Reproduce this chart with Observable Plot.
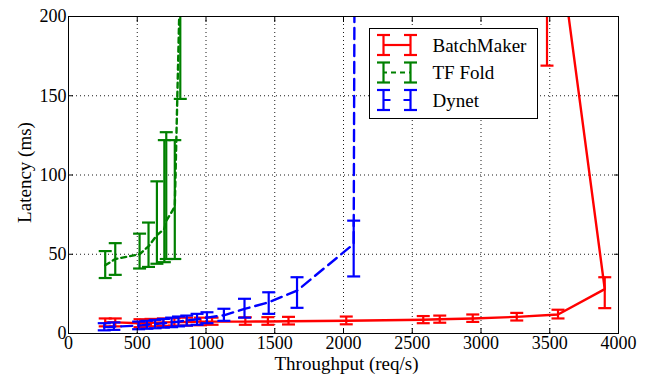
<!DOCTYPE html>
<html>
<head>
<meta charset="utf-8">
<script src="https://cdn.jsdelivr.net/npm/d3@7"></script>
<script src="https://cdn.jsdelivr.net/npm/@observablehq/plot@0.6"></script>
<style>
  html, body { margin: 0; padding: 0; background: #fff; overflow: hidden; font-family: 'Liberation Serif', serif; }
  #chart { width: 652px; height: 381px; }
</style>
</head>
<body>
<div id="chart"></div>
<script>
// ---- data ----
const seriesNames = ["BatchMaker", "TF Fold", "Dynet"];
const seriesColors = ["#ff0000", "#008000", "#0000ff"];
const seriesDash = [null, "5,4", "11,6"];

const batchX  = [267, 340, 520, 600, 690, 770, 860, 960, 1044, 1286, 1450, 1600, 2020, 2580, 2700, 2940, 3260, 3560, 3900, 3480];
const batchY  = [7, 7, 6.5, 6.8, 7, 7.2, 7.3, 7.5, 7.5, 7.5, 7.6, 7.7, 8, 8.7, 9, 9.5, 10.5, 12, 28, 303];
const batchLo = [4.5, 4.5, 4, 4.5, 4.8, 5, 5, 5.2, 5.5, 5.5, 5.5, 5.7, 5.8, 6.5, 6.8, 7.3, 8.2, 9.5, 16, 169];
const batchHi = [9.5, 9.5, 9, 9.2, 9.5, 9.7, 10, 10, 10, 10.2, 10.3, 10.5, 10.7, 11, 11.3, 12, 13, 15, 35.5, 420];

const tfX  = [267, 340, 517, 582, 643, 697, 711, 773, 813];
const tfY  = [43, 47, 50, 55, 62, 66, 71, 80, 230];
const tfLo = [35, 37, 41, 42, 44, 45, 47, 47, 148];
const tfHi = [52, 57, 63, 70, 96, 122, 127, 122, 330];

const dyX  = [260, 330, 510, 570, 630, 690, 750, 800, 860, 935, 1007, 1130, 1280, 1456, 1662, 2074, 2085];
const dyY  = [4, 4.3, 5, 5.5, 6, 6.5, 7, 7.5, 8.2, 9, 10, 11.5, 15.5, 19.7, 27, 56.5, 350];
const dyLo = [2, 2.3, 2.7, 3, 3.3, 3.7, 4, 4.5, 5, 5.5, 6.5, 8, 10, 12.4, 16.2, 36, 250];
const dyHi = [6.5, 7, 7.5, 8, 8.6, 9.2, 10, 10.7, 11.3, 12.4, 13.4, 15.6, 21.9, 26, 35.5, 71.2, 450];

const xTicks = [0, 500, 1000, 1500, 2000, 2500, 3000, 3500, 4000];
const yTicks = [0, 50, 100, 150, 200];
const xLabel = "Throughput (req/s)";
const yLabel = "Latency (ms)";

// ---- build table ----
function rows(name, xs, ys, los, his) {
  return xs.map((x, i) => ({series: name, x, y: ys[i], lo: los[i], hi: his[i]}));
}
const allSeries = [
  rows(seriesNames[0], batchX, batchY, batchLo, batchHi),
  rows(seriesNames[1], tfX, tfY, tfLo, tfHi),
  rows(seriesNames[2], dyX, dyY, dyLo, dyHi)
];

// horizontal cap symbol for error bars
const capSymbol = {
  draw(ctx, size) {
    const w = Math.sqrt(size / Math.PI);
    ctx.moveTo(-w, 0);
    ctx.lineTo(w, 0);
  }
};

const font = "Liberation Serif";
const fmt = d3.format("d");
const marks = [];

// grid
marks.push(Plot.ruleX(xTicks.slice(1, -1), {stroke: "#000", strokeWidth: 1, strokeDasharray: "1,3", strokeOpacity: 0.9}));
marks.push(Plot.ruleY(yTicks.slice(1, -1), {stroke: "#000", strokeWidth: 1, strokeDasharray: "1,3", strokeOpacity: 0.9}));

allSeries.forEach((data, si) => {
  const c = seriesColors[si];
  marks.push(Plot.line(data, {x: "x", y: "y", stroke: c, strokeWidth: 2.4, strokeDasharray: seriesDash[si], clip: true}));
  marks.push(Plot.ruleX(data, {x: "x", y1: "lo", y2: "hi", stroke: c, strokeWidth: 2.2, clip: true}));
  marks.push(Plot.dot(data, {x: "x", y: "lo", symbol: capSymbol, r: 6.5, stroke: c, strokeWidth: 2.2, fill: "none", clip: true}));
  marks.push(Plot.dot(data, {x: "x", y: "hi", symbol: capSymbol, r: 6.5, stroke: c, strokeWidth: 2.2, fill: "none", clip: true}));
});

// axes (tick labels)
marks.push(Plot.axisX(xTicks, {anchor: "bottom", tickSize: 0, tickPadding: 3, fontSize: 18, fontFamily: font, tickFormat: fmt, label: null}));
marks.push(Plot.axisY(yTicks, {anchor: "left", tickSize: 0, tickPadding: 2, fontSize: 18, fontFamily: font, tickFormat: fmt, label: null}));
// inward ticks on all four sides
marks.push(Plot.axisX(xTicks, {anchor: "bottom", tickSize: -5, tickFormat: () => "", label: null}));
marks.push(Plot.axisX(xTicks, {anchor: "top", tickSize: -5, tickFormat: () => "", label: null}));
marks.push(Plot.axisY(yTicks, {anchor: "left", tickSize: -5, tickFormat: () => "", label: null}));
marks.push(Plot.axisY(yTicks, {anchor: "right", tickSize: -5, tickFormat: () => "", label: null}));
// axis titles
marks.push(Plot.text([xLabel], {text: d => d, frameAnchor: "bottom", lineAnchor: "middle", textAnchor: "middle", dy: 30.5, dx: 3, fontSize: 19, fontFamily: font, fill: "#000"}));
marks.push(Plot.text([yLabel], {text: d => d, frameAnchor: "left", lineAnchor: "middle", textAnchor: "middle", rotate: -90, dx: -43.5, dy: -2.5, fontSize: 19, fontFamily: font, fill: "#000"}));
marks.push(Plot.frame({stroke: "#000", strokeWidth: 1}));

const plot = Plot.plot({
  width: 652,
  height: 381,
  marginLeft: 68,
  marginRight: 34,
  marginTop: 16,
  marginBottom: 48,
  style: {color: "#000", background: "#fff"},
  x: {domain: [0, 4000]},
  y: {domain: [0, 200]},
  marks
});
document.getElementById("chart").appendChild(plot);

// ---- legend (inside svg) ----
const svg = d3.select(plot);
const lg = svg.append("g").attr("transform", "translate(369.5,28.5)");
lg.append("rect").attr("width", 168).attr("height", 90).attr("fill", "#fff").attr("stroke", "#000").attr("stroke-width", 1);
seriesNames.forEach((name, i) => {
  const cy = 16.5 + i * 27.5;
  const g = lg.append("g").attr("transform", `translate(0,${cy})`);
  const c = seriesColors[i];
  const xa = 14, xb = 41, h = 10, cw = 6.5;
  g.append("line").attr("x1", xa).attr("x2", xb).attr("y1", 0).attr("y2", 0)
    .attr("stroke", c).attr("stroke-width", 2.2).attr("stroke-dasharray", i === 0 ? null : (i === 1 ? "5,4" : "7,13"))
    .attr("stroke-dashoffset", i === 1 ? -7.5 : 0);
  [xa, xb].forEach(px => {
    g.append("line").attr("x1", px).attr("x2", px).attr("y1", -h).attr("y2", h).attr("stroke", c).attr("stroke-width", 2.2);
    g.append("line").attr("x1", px - cw).attr("x2", px + cw).attr("y1", -h).attr("y2", -h).attr("stroke", c).attr("stroke-width", 2.2);
    g.append("line").attr("x1", px - cw).attr("x2", px + cw).attr("y1", h).attr("y2", h).attr("stroke", c).attr("stroke-width", 2.2);
  });
  g.append("text").attr("class", "legend-text").attr("x", 63).attr("y", 0).attr("dy", "0.35em").attr("text-anchor", "start")
    .attr("font-size", 19).attr("font-family", font).attr("fill", "#000").text(name);
});

// make sure the serif family reaches every text element
plot.setAttribute("font-family", font);
plot.querySelectorAll("text").forEach(t => {
  t.setAttribute("font-family", font);
  t.style.setProperty("font-family", font, "important");
});
</script>
</body>
</html>
